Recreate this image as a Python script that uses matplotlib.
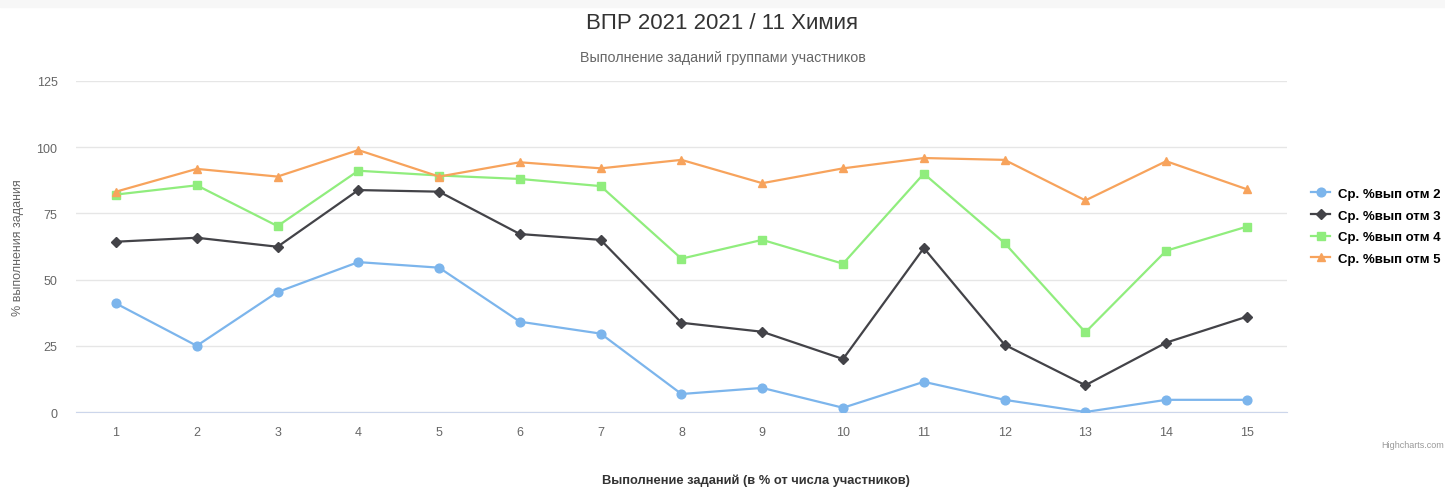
import matplotlib.pyplot as plt
from matplotlib.patches import Rectangle

plt.rcParams["font.family"] = ["Liberation Sans", "DejaVu Sans"]

tasks = list(range(1, 16))
labels = ["Ср. %вып отм 2", "Ср. %вып отм 3", "Ср. %вып отм 4", "Ср. %вып отм 5"]
grade2 = [41.0, 25.0, 45.3, 56.6, 54.5, 34.1, 29.6, 6.8, 9.1, 1.6, 11.4, 4.6, 0.0, 4.6, 4.6]
grade3 = [64.3, 65.8, 62.4, 83.8, 83.2, 67.2, 65.0, 33.7, 30.3, 20.0, 61.9, 25.4, 10.1, 26.2, 36.0]
grade4 = [82.1, 85.6, 70.2, 91.1, 89.3, 88.0, 85.3, 57.9, 65.0, 56.0, 90.0, 63.8, 30.1, 60.9, 70.0]
grade5 = [83.2, 91.8, 88.9, 98.9, 88.9, 94.3, 92.0, 95.2, 86.4, 92.0, 95.9, 95.2, 79.9, 94.7, 84.1]

series = [grade2, grade3, grade4, grade5]
colors = ["#7cb5ec", "#434348", "#90ed7d", "#f7a35c"]
markers = ["o", "D", "s", "^"]
msizes = [6.3, 4.7, 6.3, 6.3]

fig = plt.figure(figsize=(14.45, 4.89), dpi=100)
fig.patches.append(Rectangle((0, 0.984), 1, 0.016, transform=fig.transFigure,
                             color="#f7f7f7", zorder=0))
ax = fig.add_axes([0.0523, 0.1554, 0.8386, 0.677])

for i, vals in enumerate(series):
    ax.plot(tasks, vals, color=colors[i], marker=markers[i], markersize=msizes[i],
            linewidth=1.6, label=labels[i], zorder=3 + i)

ax.set_xlim(0.5, 15.5)
ax.set_ylim(0, 125)
ax.set_xticks(tasks)
ax.set_yticks([0, 25, 50, 75, 100, 125])
ax.grid(axis="y", color="#e6e6e6", linewidth=1)
ax.set_axisbelow(True)
for side in ["top", "right", "left"]:
    ax.spines[side].set_visible(False)
ax.spines["bottom"].set_color("#ccd6eb")
ax.tick_params(axis="both", length=0, labelsize=9, labelcolor="#666666")
ax.tick_params(axis="x", pad=10)
ax.tick_params(axis="y", pad=13)

ax.set_ylabel("% выполнения задания", fontsize=9, color="#666666", labelpad=9)

fig.text(0.5, 0.951, "ВПР 2021 2021 / 11 Химия", ha="center", va="center",
         fontsize=16, color="#333333")
fig.text(0.5, 0.881, "Выполнение заданий группами участников", ha="center",
         va="center", fontsize=10.3, color="#666666")
fig.text(0.523, 0.016, "Выполнение заданий (в % от числа участников)", ha="center",
         va="center", fontsize=9.3, fontweight="bold", color="#333333")
fig.text(0.999, 0.088, "Highcharts.com", ha="right", va="center", fontsize=6.5,
         color="#999999")

ax.legend(loc="center left", bbox_to_anchor=(1.01, 0.561), frameon=False,
          handlelength=1.4, handletextpad=0.6, labelspacing=0.72,
          prop={"weight": "bold", "size": 9.5})

fig.savefig("out.png", dpi=100)
